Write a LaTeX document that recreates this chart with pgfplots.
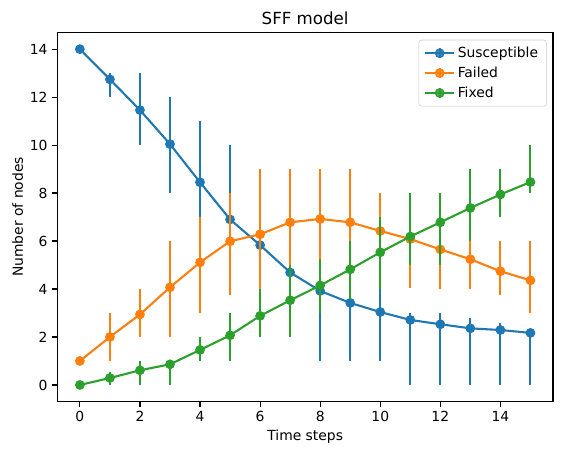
\documentclass[border=0pt]{standalone}
\usepackage{fontspec}
\setmainfont{DejaVu Sans}
\usepackage{pgfplots}
\pgfplotsset{compat=1.18}
\usepackage{pgfplotstable}
\definecolor{tabblue}{HTML}{1F77B4}
\definecolor{taborange}{HTML}{FF7F0E}
\definecolor{tabgreen}{HTML}{2CA02C}

% x  mean  plus  minus
\pgfplotstableread{
x y ep em
0 14.00 0.00 0.00
1 12.74 0.26 0.74
2 11.46 1.54 1.46
3 10.04 1.96 2.04
4 8.45 2.55 2.45
5 6.90 3.10 2.90
6 5.83 2.17 2.83
7 4.69 2.31 2.69
8 3.92 3.08 2.92
9 3.42 2.58 2.42
10 3.04 0.96 2.04
11 2.71 0.28 2.71
12 2.53 0.46 2.53
13 2.36 0.42 2.36
14 2.29 0.28 2.29
15 2.17 0.05 2.17
}\susc

\pgfplotstableread{
x y ep em
0 1.00 0.00 0.00
1 2.00 1.00 1.00
2 2.94 1.06 0.94
3 4.07 1.93 2.07
4 5.11 1.89 2.11
5 5.99 2.01 2.23
6 6.28 2.72 2.68
7 6.78 2.22 2.18
8 6.92 2.08 2.02
9 6.78 2.22 2.18
10 6.42 1.58 1.62
11 6.08 1.92 2.05
12 5.65 1.35 1.65
13 5.24 0.76 1.24
14 4.74 1.26 0.98
15 4.36 1.64 1.35
}\failed

\pgfplotstableread{
x y ep em
0 0.00 0.00 0.00
1 0.29 0.27 0.29
2 0.61 0.39 0.61
3 0.86 0.14 0.86
4 1.46 0.54 0.46
5 2.07 0.93 1.07
6 2.88 1.12 0.88
7 3.53 1.47 1.53
8 4.15 1.09 1.14
9 4.82 1.18 1.25
10 5.53 1.47 1.53
11 6.19 1.81 1.19
12 6.78 1.22 1.78
13 7.38 1.62 1.38
14 7.94 1.06 0.93
15 8.46 1.54 0.46
}\fixed

\begin{document}
\begin{tikzpicture}
\begin{axis}[
  name=ax,
  scale only axis,
  width=356.9pt, height=266pt,
  xmin=-0.75, xmax=15.75, ymin=-0.7, ymax=14.7,
  xtick={0,2,...,14}, ytick={0,2,...,14},
  tick pos=left,
  tick align=outside,
  major tick length=3.5pt,
  tick style={line width=0.8pt, black},
  axis line style={line width=0.8pt},
  /pgf/number format/assume math mode=true,
  tick label style={font=\fontsize{10}{12}\selectfont},
  label style={font=\fontsize{10}{12}\selectfont},
  title={SFF model},
  every axis title/.style={font=\fontsize{12}{14}\selectfont, at={(axis description cs:0.5,1)}, anchor=base, yshift=5.4pt},
  xlabel={Time steps},
  xlabel style={at={(axis description cs:0.5,-0.1053)}, anchor=base},
  ylabel={Number of nodes},
  ylabel style={at={(axis description cs:-0.0698,0.5)}, anchor=base, rotate=0},
  clip marker paths=true,
  legend cell align=left,
  legend style={at={(1,1)}, anchor=north east, xshift=-4.5pt, yshift=-5.3pt,
    draw=black!20, rounded corners=2pt, fill=white, fill opacity=0.8, text opacity=1,
    font=\fontsize{10}{12}\selectfont, row sep=1.2pt, inner xsep=4pt, inner ysep=3pt},
  legend image code/.code={
    \draw[#1,mark=none] (0.36cm,-3.5pt) -- (0.36cm,3.5pt);
    \draw[mark repeat=2,mark phase=2,#1] plot coordinates {(0cm,0cm) (0.36cm,0cm) (0.72cm,0cm)};
  },
  every axis plot/.append style={line width=1.5pt, mark=*, mark size=3pt, mark options={line width=1pt, solid}},
]
\addplot[color=tabblue, error bars/.cd, y dir=both, y explicit, error mark=none, error bar style={line width=1.5pt}]
  table[x=x, y=y, y error plus=ep, y error minus=em]{\susc};
\addlegendentry{Susceptible}
\addplot[color=taborange, error bars/.cd, y dir=both, y explicit, error mark=none, error bar style={line width=1.5pt}]
  table[x=x, y=y, y error plus=ep, y error minus=em]{\failed};
\addlegendentry{Failed}
\addplot[color=tabgreen, error bars/.cd, y dir=both, y explicit, error mark=none, error bar style={line width=1.5pt}]
  table[x=x, y=y, y error plus=ep, y error minus=em]{\fixed};
\addlegendentry{Fixed}
\end{axis}
\pgfresetboundingbox
\path[use as bounding box] ([xshift=-41.3pt,yshift=-38.3pt]ax.south west) rectangle ([xshift=6.5pt,yshift=23.3pt]ax.north east);
\end{tikzpicture}
\end{document}
